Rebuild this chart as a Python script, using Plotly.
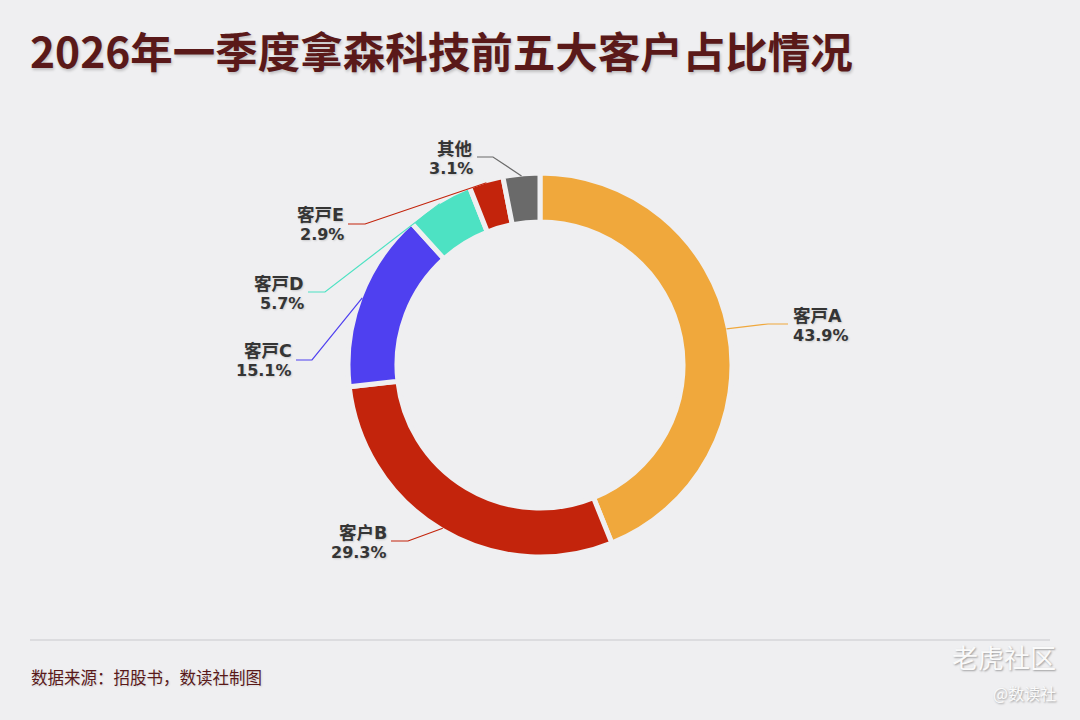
import numpy as np
import plotly.graph_objects as go

W, H = 1080, 720

# --- data ---
labels = ["客戸A", "客户B", "客戸C", "客戸D", "客戸E", "其他"]
shares = [43.9, 29.3, 15.1, 5.7, 2.9, 3.1]
colors = ["#F0A83C", "#C3240C", "#4F40F0", "#4DE2C3", "#C3240C", "#6A6A6A"]

title_text = "2026年一季度拿森科技前五大客户占比情况"
source_text = "数据来源：招股书，数读社制图"

# --- layout constants (pixels) ---
BG = "#EFEFF1"
CX, CY, R = 540, 365, 192
# label line: elbow point, end point, side of label
elbows = [(768, 324), (408, 541), (312, 360), (325, 292), (365, 224), (493, 157)]
ends = [(788, 324), (391, 541), (296, 360), (308, 292), (348, 224), (477, 157)]
sides = ["right", "left", "left", "left", "left", "left"]


def px(x):
    return x / W


def py(y):
    return 1 - y / H


fig = go.Figure()

fig.add_trace(go.Pie(
    labels=labels,
    values=shares,
    sort=False,
    direction="clockwise",
    rotation=0,
    hole=0.745,
    marker=dict(colors=colors, line=dict(color=BG, width=5)),
    textinfo="none",
    hoverinfo="label+percent",
    showlegend=False,
    domain=dict(x=[px(CX - R), px(CX + R)], y=[py(CY + R), py(CY - R)]),
))

# 标签与引导线
shadow = "1px 1px 2px rgba(0,0,0,0.15)"
name_font = dict(family="DejaVu Sans, Noto Sans CJK SC", size=17.5, color="#353535",
                 weight=700, shadow=shadow)
pct_font = dict(family="DejaVu Sans, Noto Sans CJK SC", size=16, color="#353535",
                weight=700, shadow=shadow)
total = sum(shares)
cum = np.cumsum([0] + shares[:-1])
shapes = []
annotations = []
for i, lab in enumerate(labels):
    mid = (cum[i] + shares[i] / 2) / total * 2 * np.pi  # clockwise from top
    sx = CX + (R - 2) * np.sin(mid)
    sy = CY - (R - 2) * np.cos(mid)
    ex, ey = elbows[i]
    tx, ty = ends[i]
    shapes.append(dict(
        type="path", xref="paper", yref="paper",
        path=f"M {px(sx)},{py(sy)} L {px(ex)},{py(ey)} L {px(tx)},{py(ty)}",
        line=dict(color=colors[i], width=1.2),
    ))
    right = sides[i] == "right"
    for text, dy, fnt in ((lab, -8.5, name_font), (f"{shares[i]:.1f}%", 11, pct_font)):
        annotations.append(dict(
            x=px(tx + 4 if right else tx - 3), y=py(ty + dy),
            xref="paper", yref="paper",
            xanchor="left" if right else "right", yanchor="middle",
            text=text, showarrow=False, font=fnt, borderpad=0,
        ))

# 标题
annotations.append(dict(
    x=px(28), y=py(50), xref="paper", yref="paper",
    xanchor="left", yanchor="middle", showarrow=False,
    text=title_text,
    font=dict(family="Noto Sans CJK SC", size=42.5, color="#5A1919", weight=700,
              shadow="1px 2px 3px rgba(0,0,0,0.2)"),
))

# 底部分隔线与来源
shapes.append(dict(type="line", xref="paper", yref="paper",
                   x0=px(30), x1=px(1050), y0=py(640), y1=py(640),
                   line=dict(color="#DCDCDF", width=2)))
annotations.append(dict(
    x=px(29), y=py(677), xref="paper", yref="paper",
    xanchor="left", yanchor="middle", showarrow=False,
    text=source_text,
    font=dict(family="Noto Sans CJK SC", size=16.5, color="#5A1919",
              shadow="1px 1px 2px rgba(0,0,0,0.12)"),
))

# 水印
annotations.append(dict(
    x=px(1058), y=py(656), xref="paper", yref="paper",
    xanchor="right", yanchor="middle", showarrow=False,
    text="老虎社区",
    font=dict(family="Noto Sans CJK SC", size=26, color="#FAFAFA",
              shadow="1px 1px 2px rgba(0,0,0,0.35)"),
))
annotations.append(dict(
    x=px(1058), y=py(693), xref="paper", yref="paper",
    xanchor="right", yanchor="middle", showarrow=False,
    text="@数读社",
    font=dict(family="Noto Sans CJK SC", size=16, color="#FAFAFA",
              shadow="1px 1px 2px rgba(0,0,0,0.35)"),
))

fig.update_layout(
    width=W, height=H,
    margin=dict(l=0, r=0, t=0, b=0),
    paper_bgcolor=BG,
    plot_bgcolor=BG,
    shapes=shapes,
    annotations=annotations,
)

fig.write_html("out.html", config={"displayModeBar": False},
               post_script="document.body.style.margin='0';")
